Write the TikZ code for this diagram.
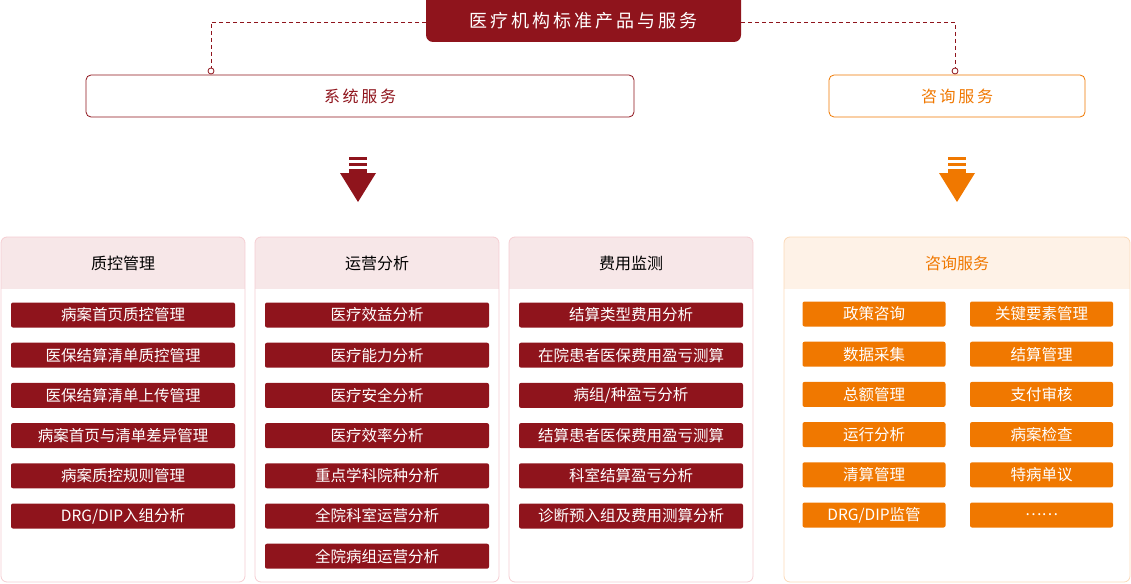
\documentclass[tikz,border=0pt]{standalone}
\usepackage{fontspec}
\setmainfont{Noto Sans CJK SC}
\usetikzlibrary{positioning}
\definecolor{DeepRed}{HTML}{8F141C}
\definecolor{PaleRed}{HTML}{F5CDD2}
\definecolor{HeadRed}{HTML}{F7E7E8}
\definecolor{Tangerine}{HTML}{F07800}
\definecolor{PaleOrange}{HTML}{FBD9B8}
\definecolor{HeadOrange}{HTML}{FEF2E7}
\tikzset{
  itembox/.style={rectangle, rounded corners=2pt, fill=DeepRed, text=white, minimum width=224pt, minimum height=25pt, font=\fontsize{15.5}{17}\selectfont, inner sep=0pt},
  advbox/.style={rectangle, rounded corners=2pt, fill=Tangerine, text=white, minimum width=143pt, minimum height=25pt, font=\fontsize{15.5}{17}\selectfont, inner sep=0pt},
  svcbox/.style={rectangle, rounded corners=5pt, draw=#1, line width=0.8pt, fill=white, text=#1, minimum height=42pt, font=\fontsize{16}{18}\selectfont},
  link/.style={DeepRed, dashed, dash pattern=on 4pt off 3pt, line width=0.8pt},
  pin/.style={circle, draw=DeepRed, fill=white, line width=0.8pt, inner sep=0pt, minimum size=6pt}
}
\newcommand{\downicon}[2]{%
  \fill[#2] (#1,157) rectangle ++(18,3);
  \fill[#2] (#1,163) rectangle ++(18,3);
  \fill[#2] (#1,169) rectangle ++(18,4);
  \fill[#2] (#1-9,173) -- (#1+27,173) -- (#1+9,202) -- cycle;}
\begin{document}
\begin{tikzpicture}[x=1pt, y=-1pt]
  \useasboundingbox (0,0) rectangle (1131,583);
  % top title
  \fill[DeepRed, rounded corners=7pt] (426,-10) rectangle (741,42);
  \node[text=white, font=\fontsize{18}{20}\selectfont] (title) at (583.5,21) {医\,疗\,机\,构\,标\,准\,产\,品\,与\,服\,务};
  \node[svcbox=DeepRed, minimum width=548pt] (sys) at (360,96) {系\,统\,服\,务};
  \node[svcbox=Tangerine, minimum width=256pt] (adv) at (957,96) {咨\,询\,服\,务};
  \coordinate (lp) at (211,71);
  \coordinate (rp) at (955,71);
  \draw[link] (426,22) -| (lp);
  \draw[link] (741,22) -| (rp);
  \node[pin] at (lp) {};
  \node[pin] at (rp) {};
  % arrows
  \downicon{349}{DeepRed}
  \downicon{948}{Tangerine}
  % columns
  \foreach \x/\name in {1/质控管理, 255/运营分析, 509/费用监测} {
    \begin{scope}
      \clip[rounded corners=6pt] (\x,237) rectangle ++(244,345);
      \fill[HeadRed] (\x,237) rectangle ++(244,52);
    \end{scope}
    \draw[PaleRed, line width=0.8pt, rounded corners=6pt] (\x,237) rectangle ++(244,345);
    \node[font=\fontsize{16}{18}\selectfont] at (\x+122,263) {\name};
  }
  \begin{scope}
    \clip[rounded corners=6pt] (784,237) rectangle (1130,582);
    \fill[HeadOrange] (784,237) rectangle (1130,289);
  \end{scope}
  \draw[PaleOrange, line width=0.8pt, rounded corners=6pt] (784,237) rectangle (1130,582);
  \node[text=Tangerine, font=\fontsize{16}{18}\selectfont] at (957,263) {咨询服务};
  % items
  \foreach \t [count=\i] in {病案首页质控管理, 医保结算清单质控管理, 医保结算清单上传管理, 病案首页与清单差异管理, 病案质控规则管理, DRG/DIP入组分析}
    \node[itembox] (qc\i) at (123,{315+40.2*(\i-1)}) {\t};
  \foreach \t [count=\i] in {医疗效益分析, 医疗能力分析, 医疗安全分析, 医疗效率分析, 重点学科院种分析, 全院科室运营分析, 全院病组运营分析}
    \node[itembox] (op\i) at (377,{315+40.2*(\i-1)}) {\t};
  \foreach \t [count=\i] in {结算类型费用分析, 在院患者医保费用盈亏测算, 病组/种盈亏分析, 结算患者医保费用盈亏测算, 科室结算盈亏分析, 诊断预入组及费用测算分析}
    \node[itembox] (fee\i) at (631,{315+40.2*(\i-1)}) {\t};
  \foreach \a/\b [count=\i] in {政策咨询/关键要素管理, 数据采集/结算管理, 总额管理/支付审核, 运行分析/病案检查, 清算管理/特病单议, {DRG/DIP监管}/……} {
    \node[advbox] (al\i) at (874,{314+40.2*(\i-1)}) {\a};
    \node[advbox] (ar\i) at (1041.5,{314+40.2*(\i-1)}) {\b};
  }
\end{tikzpicture}
\end{document}
